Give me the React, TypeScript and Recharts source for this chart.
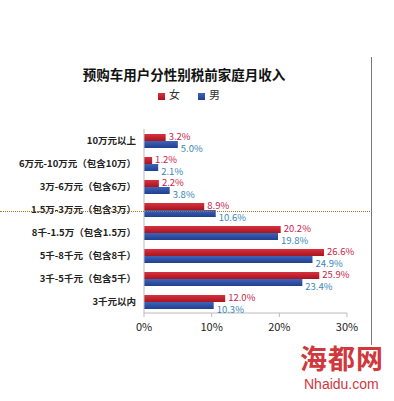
import React from 'react';
import { BarChart, Bar, XAxis, YAxis, Legend, LabelList } from 'recharts';

const categories = [
    '10万元以上',
    '6万元-10万元（包含10万）',
    '3万-6万元（包含6万）',
    '1.5万-3万元（包含3万）',
    '8千-1.5万（包含1.5万）',
    '5千-8千元（包含8千）',
    '3千-5千元（包含5千）',
    '3千元以内',
];
const female = [3.2, 1.2, 2.2, 8.9, 20.2, 26.6, 25.9, 12.0];
const male = [5.0, 2.1, 3.8, 10.6, 19.8, 24.9, 23.4, 10.3];
const xTicks = [0, 10, 20, 30];

const FONT = '"Noto Sans CJK SC", "Noto Sans", sans-serif';

const data = categories.map((name, i) => ({ name, female: female[i], male: male[i] }));

// value label just right of the bar end, nudged up (red) or down (blue)
const makeLabel = (color: string, dy: number) => (props: any) => {
    const { x, y, width, height, value } = props;
    return (
        <text x={x + width + 3} y={y + height / 2 + dy} dominantBaseline="central" fontSize={9.5}
            fill={color} fontFamily={FONT}>
            {`${Number(value).toFixed(1)}%`}
        </text>
    );
};

const App: React.FC = () => (
    <div style={{ position: 'relative', width: 394, height: 401, background: '#fff', fontFamily: FONT }}>
        <style>{'body{margin:0}'}</style>
        <div style={{ position: 'absolute', left: 0, width: 368, top: 64, textAlign: 'center', fontSize: 13.5, fontWeight: 700, color: '#111' }}>
            预购车用户分性别税前家庭月收入
        </div>
        <div style={{ position: 'absolute', left: 371, top: 57, width: 1, height: 288, background: '#777' }} />
        <BarChart
            width={394}
            height={401}
            data={data}
            layout="vertical"
            margin={{ top: 113, right: 47, bottom: 58, left: 0 }}
            barGap={0}
            barSize={7}
            style={{ position: 'absolute', left: 0, top: 0 }}
        >
            <defs>
                <linearGradient id="gRed" x1="0" y1="0" x2="0" y2="1">
                    <stop offset="0%" stopColor="#d8323f" />
                    <stop offset="100%" stopColor="#a8141f" />
                </linearGradient>
                <linearGradient id="gBlue" x1="0" y1="0" x2="0" y2="1">
                    <stop offset="0%" stopColor="#3d63bb" />
                    <stop offset="100%" stopColor="#213f8e" />
                </linearGradient>
            </defs>
            <Legend
                verticalAlign="top"
                iconType="square"
                iconSize={7}
                wrapperStyle={{ top: 86, left: 8, width: 380, fontSize: 11, color: '#333' }}
                formatter={(v) => <span style={{ color: '#333', marginRight: 8 }}>{v}</span>}
            />
            <XAxis
                type="number"
                domain={[0, 30]}
                ticks={xTicks}
                tickFormatter={(v) => `${v}%`}
                axisLine={{ stroke: '#bbb' }}
                tickLine={{ stroke: '#bbb' }}
                tickSize={4}
                tickMargin={6}
                height={30}
                tick={{ fontSize: 11, fill: '#222', fontFamily: FONT }}
            />
            <YAxis
                type="category"
                dataKey="name"
                width={144}
                axisLine={{ stroke: '#bbb' }}
                tickLine={false}
                tick={{ fontSize: 9.5, fill: '#222', fontWeight: 600, fontFamily: FONT }}
            />
            <Bar dataKey="female" name="女" fill="url(#gRed)" legendType="square" isAnimationActive={false}>
                <LabelList dataKey="female" content={makeLabel('#c8234a', -2)} />
            </Bar>
            <Bar dataKey="male" name="男" fill="url(#gBlue)" legendType="square" isAnimationActive={false}>
                <LabelList dataKey="male" content={makeLabel('#3a86b8', 3)} />
            </Bar>
        </BarChart>
        <div style={{ position: 'absolute', left: 0, top: 211, width: 372, borderTop: '1px dotted #b07424', zIndex: 2 }} />
        <div style={{ position: 'absolute', left: 300, top: 338, fontSize: 27, fontWeight: 700, color: '#d0383e', letterSpacing: 1, fontFamily: '"Noto Sans CJK SC", sans-serif' }}>
            海都网
        </div>
        <div style={{ position: 'absolute', left: 304, top: 376, fontSize: 14, color: '#d0383e', fontFamily: 'Arial, "Liberation Sans", sans-serif' }}>
            Nhaidu.com
        </div>
    </div>
);

export default App;
